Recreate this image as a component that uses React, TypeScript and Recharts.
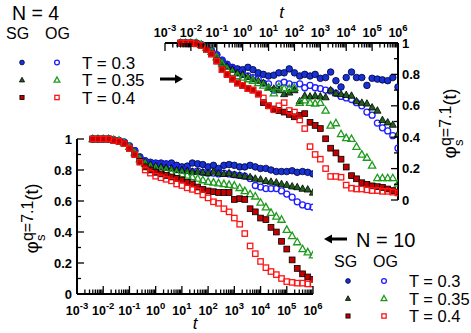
import React from 'react';
import { ScatterChart, Scatter, XAxis, YAxis, Label } from 'recharts';

const FONT = '"Liberation Sans", Arial, Helvetica, sans-serif';

// Sampling times shared by every curve (log-spaced, 5 points per decade)
const times = [
  0.004, 0.0063, 0.01, 0.016, 0.025, 0.04, 0.063, 0.1, 0.16, 0.25, 0.4, 0.63,
  1, 1.6, 2.5, 4, 6.3, 10, 16, 25, 40, 63, 100, 160, 250, 400, 630,
  1e3, 1.6e3, 2.5e3, 4e3, 6.3e3, 1e4, 1.6e4, 2.5e4, 4e4, 6.3e4,
  1e5, 1.6e5, 2.5e5, 4e5, 6.3e5, 1e6,
];

// N = 10 : self-intermediate scattering function, SG (filled) and OG (open)
const sgN10T03 = [1, 1, 1, 1, 0.995, 0.99, 0.98, 0.955, 0.925, 0.885, 0.86, 0.85, 0.845, 0.845, 0.84, 0.845, 0.83, 0.82, 0.825, 0.845, 0.84, 0.835, 0.82, 0.83, 0.81, 0.83, 0.835, 0.83, 0.82, 0.82, 0.83, 0.82, 0.81, 0.81, 0.8, 0.79, 0.79, 0.79, 0.795, 0.785, 0.79, 0.785, 0.775];
const ogN10T03 = [1, 1, 1, 1, 0.995, 0.99, 0.98, 0.955, 0.925, 0.88, 0.855, 0.845, 0.84, 0.835, 0.835, 0.82, 0.815, 0.8, 0.8, 0.79, 0.795, 0.785, 0.78, 0.78, 0.775, 0.78, 0.775, 0.77, 0.765, 0.76, 0.745, 0.7, 0.69, 0.68, 0.68, 0.68, 0.665, 0.645, 0.625, 0.595, 0.575, 0.565, 0.56];
const sgN10T035 = [1, 1, 1, 1, 0.995, 0.99, 0.975, 0.95, 0.915, 0.875, 0.85, 0.835, 0.825, 0.82, 0.815, 0.81, 0.8, 0.8, 0.795, 0.79, 0.79, 0.785, 0.78, 0.79, 0.78, 0.775, 0.78, 0.77, 0.765, 0.76, 0.755, 0.745, 0.74, 0.73, 0.725, 0.72, 0.71, 0.705, 0.695, 0.69, 0.68, 0.675, 0.655];
const ogN10T035 = [1, 1, 1, 1, 0.995, 0.99, 0.975, 0.95, 0.91, 0.87, 0.84, 0.82, 0.81, 0.8, 0.795, 0.785, 0.78, 0.775, 0.765, 0.755, 0.745, 0.735, 0.725, 0.72, 0.715, 0.71, 0.705, 0.7, 0.685, 0.665, 0.645, 0.63, 0.59, 0.56, 0.525, 0.5, 0.48, 0.415, 0.375, 0.335, 0.29, 0.27, 0.25];
const sgN10T04 = [1, 1, 1, 1, 0.99, 0.985, 0.97, 0.94, 0.9, 0.855, 0.82, 0.8, 0.785, 0.775, 0.765, 0.755, 0.745, 0.735, 0.72, 0.71, 0.69, 0.675, 0.665, 0.66, 0.655, 0.655, 0.655, 0.61, 0.615, 0.61, 0.55, 0.53, 0.49, 0.48, 0.43, 0.4, 0.34, 0.29, 0.22, 0.165, 0.13, 0.11, 0.095];
const ogN10T04 = [1, 1, 1, 1, 0.99, 0.985, 0.97, 0.94, 0.9, 0.85, 0.8, 0.78, 0.76, 0.75, 0.74, 0.73, 0.71, 0.7, 0.685, 0.675, 0.665, 0.64, 0.62, 0.595, 0.585, 0.55, 0.53, 0.49, 0.45, 0.39, 0.31, 0.26, 0.21, 0.17, 0.145, 0.125, 0.1, 0.08, 0.075, 0.07, 0.07, 0.065, 0.065];

// N = 4
const sgN4T03 = [1, 1, 1, 1, 0.99, 0.975, 0.95, 0.925, 0.89, 0.865, 0.845, 0.835, 0.83, 0.845, 0.83, 0.81, 0.8, 0.79, 0.795, 0.81, 0.81, 0.835, 0.81, 0.79, 0.8, 0.79, 0.8, 0.775, 0.78, 0.815, 0.76, 0.72, 0.78, 0.815, 0.78, 0.78, 0.73, 0.775, 0.77, 0.765, 0.76, 0.78, 0.72];
const ogN4T03 = [1, 1, 1, 1, 0.99, 0.975, 0.95, 0.925, 0.89, 0.86, 0.84, 0.81, 0.8, 0.79, 0.78, 0.77, 0.745, 0.74, 0.7, 0.74, 0.75, 0.74, 0.73, 0.74, 0.715, 0.73, 0.715, 0.71, 0.7, 0.695, 0.68, 0.66, 0.65, 0.64, 0.62, 0.6, 0.56, 0.54, 0.49, 0.46, 0.44, 0.41, 0.33];
const sgN4T035 = [1, 1, 1, 1, 0.99, 0.97, 0.945, 0.91, 0.875, 0.85, 0.83, 0.81, 0.8, 0.785, 0.77, 0.76, 0.745, 0.72, 0.71, 0.7, 0.675, 0.685, 0.7, 0.63, 0.665, 0.66, 0.665, 0.66, 0.655, 0.7, 0.68, 0.675, 0.67, 0.665, 0.63, 0.62, 0.615, 0.59, 0.57, 0.51, 0.495, 0.48, 0.42];
const ogN4T035 = [1, 1, 1, 1, 0.99, 0.97, 0.945, 0.91, 0.87, 0.83, 0.81, 0.79, 0.78, 0.77, 0.76, 0.745, 0.73, 0.715, 0.68, 0.72, 0.71, 0.71, 0.715, 0.62, 0.635, 0.62, 0.615, 0.62, 0.57, 0.475, 0.49, 0.42, 0.395, 0.39, 0.34, 0.29, 0.27, 0.22, 0.14, 0.14, 0.14, 0.14, 0.105];
const sgN4T04 = [1, 1, 1, 0.995, 0.985, 0.96, 0.93, 0.885, 0.83, 0.8, 0.77, 0.745, 0.73, 0.71, 0.7, 0.675, 0.62, 0.6, 0.58, 0.57, 0.56, 0.545, 0.53, 0.54, 0.55, 0.495, 0.475, 0.455, 0.39, 0.33, 0.3, 0.26, 0.21, 0.155, 0.135, 0.11, 0.1, 0.09, 0.085, 0.08, 0.07, 0.06, 0.05];
const ogN4T04 = [1, 1, 1, 0.995, 0.985, 0.96, 0.93, 0.885, 0.83, 0.8, 0.77, 0.745, 0.73, 0.71, 0.7, 0.675, 0.65, 0.6, 0.575, 0.6, 0.62, 0.57, 0.56, 0.51, 0.455, 0.34, 0.29, 0.26, 0.2, 0.15, 0.15, 0.145, 0.095, 0.075, 0.07, 0.07, 0.065, 0.06, 0.06, 0.055, 0.055, 0.05, 0.045];

// Axis ticks
const decadeTicks = [1e-3, 1e-2, 1e-1, 1, 1e1, 1e2, 1e3, 1e4, 1e5, 1e6];
const minorMultipliers = [2, 3, 4, 5, 6, 7, 8, 9];
const logTicks = decadeTicks.concat(
  decadeTicks.slice(0, -1).flatMap((d) => minorMultipliers.map((m) => m * d))
);
const phiTicks = [0, 0.1, 0.2, 0.3, 0.4, 0.5, 0.6, 0.7, 0.8, 0.9, 1];

const temperatures = ['T = 0.3', 'T = 0.35', 'T = 0.4'];

const BLUE_SG = '#1732d2';
const BLUE_OG = '#1f1fff';
const GREEN_SG = '#1f5f1f';
const GREEN_OG = '#1e9b1e';
const RED_SG = '#c40000';
const RED_OG = '#ff1414';

type Kind = 'circle' | 'triangle' | 'square';

function Glyph({ cx, cy, kind, filled, color, scale = 1 }: { cx: number; cy: number; kind: Kind; filled: boolean; color: string; scale?: number }) {
  const fill = filled ? color : 'none';
  const stroke = filled ? '#000' : color;
  const sw = filled ? 0.8 : 1.3;
  if (kind === 'circle') {
    return <circle cx={cx} cy={cy} r={(filled ? 3.3 : 3) * scale} fill={fill} stroke={filled ? '#00003a' : color} strokeWidth={sw} />;
  }
  if (kind === 'triangle') {
    const h = 3.8 * scale;
    const w = 3.6 * scale;
    return (
      <polygon
        points={`${cx},${cy - h} ${cx + w},${cy + h * 0.7} ${cx - w},${cy + h * 0.7}`}
        fill={fill}
        stroke={stroke}
        strokeWidth={sw}
        strokeLinejoin="miter"
      />
    );
  }
  const s = (filled ? 2.9 : 2.7) * scale;
  return <rect x={cx - s} y={cy - s} width={2 * s} height={2 * s} fill={fill} stroke={stroke} strokeWidth={sw} />;
}

const shapeOf = (kind: Kind, filled: boolean, color: string) => (p: any) =>
  <Glyph cx={p.cx} cy={p.cy} kind={kind} filled={filled} color={color} />;

const toPoints = (values: number[]) => times.map((t, i) => ({ t, phi: values[i] }));

type Series = { key: string; values: number[]; kind: Kind; filled: boolean; color: string };

const seriesN4: Series[] = [
  { key: 'n4-sg-03', values: sgN4T03, kind: 'circle', filled: true, color: BLUE_SG },
  { key: 'n4-og-03', values: ogN4T03, kind: 'circle', filled: false, color: BLUE_OG },
  { key: 'n4-sg-035', values: sgN4T035, kind: 'triangle', filled: true, color: GREEN_SG },
  { key: 'n4-og-035', values: ogN4T035, kind: 'triangle', filled: false, color: GREEN_OG },
  { key: 'n4-sg-04', values: sgN4T04, kind: 'square', filled: true, color: RED_SG },
  { key: 'n4-og-04', values: ogN4T04, kind: 'square', filled: false, color: RED_OG },
];

const seriesN10: Series[] = [
  { key: 'n10-sg-03', values: sgN10T03, kind: 'circle', filled: true, color: BLUE_SG },
  { key: 'n10-og-03', values: ogN10T03, kind: 'circle', filled: false, color: BLUE_OG },
  { key: 'n10-sg-035', values: sgN10T035, kind: 'triangle', filled: true, color: GREEN_SG },
  { key: 'n10-og-035', values: ogN10T035, kind: 'triangle', filled: false, color: GREEN_OG },
  { key: 'n10-sg-04', values: sgN10T04, kind: 'square', filled: true, color: RED_SG },
  { key: 'n10-og-04', values: ogN10T04, kind: 'square', filled: false, color: RED_OG },
];

const isDecade = (v: number) => Math.abs(Math.log10(v) - Math.round(Math.log10(v))) < 1e-6;
const isMajorPhi = (v: number) => Math.abs(v * 5 - Math.round(v * 5)) < 1e-6;
const phiLabel = (v: number) => (v === 0 ? '0' : v === 1 ? '1' : v.toFixed(1));

function PowerLabel({ x, y, exp }: { x: number; y: number; exp: number }) {
  return (
    <text x={x} y={y} textAnchor="middle" fontFamily={FONT} fontSize={12.5} fontWeight="bold" fill="#000">
      10<tspan dy={-6} fontSize={9.5}>{String(exp)}</tspan>
    </text>
  );
}

// x ticks point into the plot; decades carry a 10^n label
function BottomLogTick(props: any) {
  const { x, y, payload } = props;
  const major = isDecade(payload.value);
  return (
    <g>
      <line x1={x} y1={y} x2={x} y2={y - (major ? 8 : 4.5)} stroke="#000" strokeWidth={1.3} />
      {major && <PowerLabel x={x} y={y + 21} exp={Math.round(Math.log10(payload.value))} />}
    </g>
  );
}

function TopLogTick(props: any) {
  const { x, y, payload } = props;
  const major = isDecade(payload.value);
  return (
    <g>
      <line x1={x} y1={y} x2={x} y2={y + (major ? 8 : 4.5)} stroke="#000" strokeWidth={1.3} />
      {major && <PowerLabel x={x} y={y - 6} exp={Math.round(Math.log10(payload.value))} />}
    </g>
  );
}

function LeftPhiTick(props: any) {
  const { x, y, payload } = props;
  const major = isMajorPhi(payload.value);
  return (
    <g>
      <line x1={x} y1={y} x2={x + (major ? 7 : 4)} y2={y} stroke="#000" strokeWidth={1.3} />
      {major && (
        <text x={x - 5} y={y + 4.5} textAnchor="end" fontFamily={FONT} fontSize={13} fontWeight="bold" fill="#000">
          {phiLabel(payload.value)}
        </text>
      )}
    </g>
  );
}

function RightPhiTick(props: any) {
  const { x, y, payload } = props;
  const major = isMajorPhi(payload.value);
  return (
    <g>
      <line x1={x} y1={y} x2={x - (major ? 7 : 4)} y2={y} stroke="#000" strokeWidth={1.3} />
      {major && (
        <text x={x + 4} y={y + 4.5} textAnchor="start" fontFamily={FONT} fontSize={13} fontWeight="bold" fill="#000">
          {phiLabel(payload.value)}
        </text>
      )}
    </g>
  );
}

function PhiTitle({ cx, cy }: { cx: number; cy: number }) {
  return (
    <text
      x={cx}
      y={cy}
      transform={`rotate(-90 ${cx} ${cy})`}
      textAnchor="middle"
      fontFamily={FONT}
      fontSize={19}
      fill="#000"
    >
      φ<tspan fontSize={13} dy={7}>s</tspan>
      <tspan fontSize={16} dx={-6.5} dy={-12}>q=7.1</tspan>
      <tspan fontSize={18} dy={5}>(t)</tspan>
    </text>
  );
}

function TimeTitle({ x, y }: { x: number; y: number }) {
  return (
    <text x={x} y={y} textAnchor="middle" fontFamily={FONT} fontSize={17} fontStyle="italic" fill="#000">
      t
    </text>
  );
}

const axisLine = { stroke: '#000', strokeWidth: 2 };

function renderSeries(list: Series[]) {
  return list.map((s) => (
    <Scatter
      key={s.key}
      data={toPoints(s.values)}
      dataKey="phi"
      shape={shapeOf(s.kind, s.filled, s.color)}
      isAnimationActive={false}
    />
  ));
}

function LegendBlock({ colSG, colOG, textX, rows, fontSize }: { colSG: number; colOG: number; textX: number; rows: number[]; fontSize: number }) {
  const kinds: Kind[] = ['circle', 'triangle', 'square'];
  const sg = [BLUE_SG, GREEN_SG, RED_SG];
  const og = [BLUE_OG, GREEN_OG, RED_OG];
  return (
    <g>
      {rows.map((baseY, i) => (
        <g key={i}>
          <Glyph cx={colSG} cy={baseY - 6} kind={kinds[i]} filled color={sg[i]} scale={0.72} />
          <Glyph cx={colOG} cy={baseY - 6} kind={kinds[i]} filled={false} color={og[i]} scale={0.8} />
          <text x={textX} y={baseY} fontFamily={FONT} fontSize={fontSize} fill="#000">
            {temperatures[i]}
          </text>
        </g>
      ))}
    </g>
  );
}

export default function App() {
  return (
    <div style={{ position: 'absolute', left: 0, top: 0, width: 471, height: 333, background: '#fff', overflow: 'hidden' }}>
      {/* N = 4 inset: axes on top and right */}
      <div style={{ position: 'absolute', left: 0, top: 0 }}>
        <ScatterChart width={471} height={333} margin={{ top: 13, right: 33, bottom: 133, left: 165 }}>
          <XAxis
            dataKey="t"
            type="number"
            scale="log"
            domain={[1e-3, 1e6]}
            allowDataOverflow
            orientation="top"
            height={30}
            ticks={logTicks}
            interval={0}
            tickSize={0}
            tickMargin={0}
            tickLine={false}
            axisLine={axisLine}
            tick={<TopLogTick />}
          >
            <Label content={(p: any) => <TimeTitle x={p.viewBox.x + p.viewBox.width / 2} y={p.viewBox.y + 5} />} />
          </XAxis>
          <YAxis
            dataKey="phi"
            type="number"
            domain={[0, 1]}
            orientation="right"
            width={40}
            ticks={phiTicks}
            interval={0}
            tickSize={0}
            tickMargin={0}
            tickLine={false}
            axisLine={axisLine}
            tick={<RightPhiTick />}
          >
            <Label content={(p: any) => <PhiTitle cx={p.viewBox.x + 58} cy={p.viewBox.y + p.viewBox.height / 2 + 2} />} />
          </YAxis>
          {renderSeries(seriesN4)}
        </ScatterChart>
      </div>

      {/* N = 10 main panel: axes on bottom and left */}
      <div style={{ position: 'absolute', left: 0, top: 0 }}>
        <ScatterChart width={471} height={333} margin={{ top: 139, right: 158, bottom: 9, left: 37 }}>
          <XAxis
            dataKey="t"
            type="number"
            scale="log"
            domain={[1e-3, 1e6]}
            allowDataOverflow
            orientation="bottom"
            height={30}
            ticks={logTicks}
            interval={0}
            tickSize={0}
            tickMargin={0}
            tickLine={false}
            axisLine={axisLine}
            tick={<BottomLogTick />}
          >
            <Label content={(p: any) => <TimeTitle x={p.viewBox.x + p.viewBox.width / 2} y={p.viewBox.y + 35} />} />
          </XAxis>
          <YAxis
            dataKey="phi"
            type="number"
            domain={[0, 1]}
            orientation="left"
            width={40}
            ticks={phiTicks}
            interval={0}
            tickSize={0}
            tickMargin={0}
            tickLine={false}
            axisLine={axisLine}
            tick={<LeftPhiTick />}
          >
            <Label content={(p: any) => <PhiTitle cx={p.viewBox.x + 1} cy={p.viewBox.y + p.viewBox.height / 2 + 2} />} />
          </YAxis>
          {renderSeries(seriesN10)}
        </ScatterChart>
      </div>

      {/* Legends and pointers */}
      <svg width={471} height={333} style={{ position: 'absolute', left: 0, top: 0, pointerEvents: 'none' }}>
        <text x={12} y={20} fontFamily={FONT} fontSize={19.5} fill="#000">N = 4</text>
        <text x={6} y={39} fontFamily={FONT} fontSize={16} fill="#000">SG</text>
        <text x={45} y={39} fontFamily={FONT} fontSize={16} fill="#000">OG</text>
        <LegendBlock colSG={22} colOG={57} textX={82} rows={[68.5, 86, 103.5]} fontSize={17} />
        <line x1={160} y1={79} x2={176} y2={79} stroke="#000" strokeWidth={3} />
        <polygon points="175,74.5 183,79 175,83.5" fill="#000" />

        <line x1={347} y1={239} x2={331} y2={239} stroke="#000" strokeWidth={3} />
        <polygon points="332,234.5 324,239 332,243.5" fill="#000" />
        <text x={356} y={247} fontFamily={FONT} fontSize={20} fill="#000">N = 10</text>
        <text x={334} y={267} fontFamily={FONT} fontSize={16} fill="#000">SG</text>
        <text x={373} y={267} fontFamily={FONT} fontSize={16} fill="#000">OG</text>
        <LegendBlock colSG={348} colOG={384} textX={409} rows={[287, 304.5, 322]} fontSize={16.5} />
      </svg>
    </div>
  );
}
